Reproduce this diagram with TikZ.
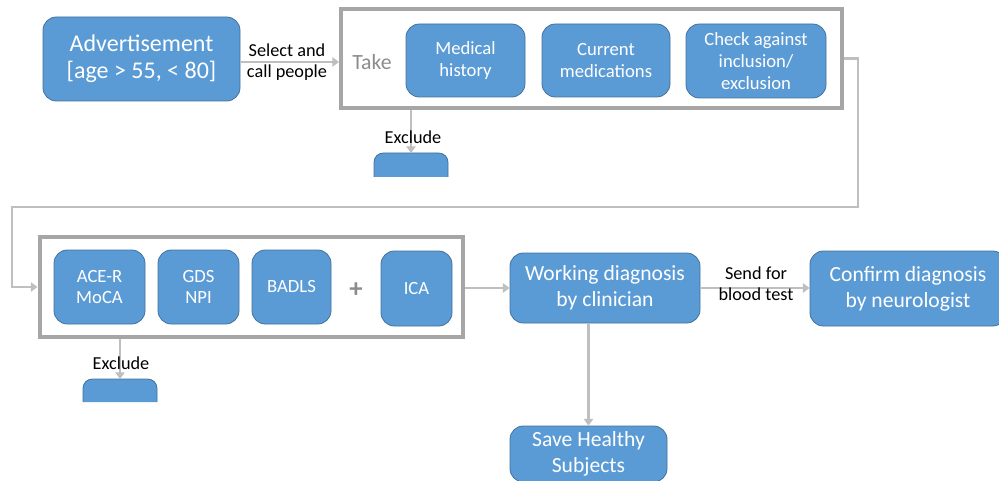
\documentclass[tikz,border=0pt]{standalone}
\usepackage{fontspec}
\setmainfont{Carlito}
\usetikzlibrary{arrows.meta}
\definecolor{boxblue}{HTML}{5B9BD5}
\definecolor{boxedge}{HTML}{41719C}
\definecolor{framegray}{HTML}{A6A6A6}
\definecolor{conn}{HTML}{BFBFBF}
\definecolor{taketext}{HTML}{8C8C8C}
\begin{document}
\begin{tikzpicture}[x=0.75pt,y=-0.75pt,
  sz/.style 2 args={minimum width=#1*0.75pt, minimum height=#2*0.75pt},
  bluebox/.style={draw=boxedge, line width=0.6pt, fill=boxblue, rounded corners=10pt,
     text=white, align=center, inner sep=0pt},
  advtxt/.style={font=\fontsize{18}{20.5}\selectfont},
  bigtxt/.style={font=\fontsize{16.2}{19.5}\selectfont},
  midtxt/.style={font=\fontsize{14}{16.2}\selectfont},
  frame/.style={draw=framegray, line width=3pt, inner sep=0pt},
  arr/.style={draw=conn, line width=2pt, -{Triangle[width=7pt,length=5pt]}},
  lbl/.style={font=\fontsize{13.7}{16}\selectfont, align=center, text=black, inner sep=0pt}
]
\useasboundingbox (0,0) rectangle (999,481);

% top row
\node[bluebox, advtxt, sz={197}{84}] (adv) at (141.5,59) {Advertisement\\{[}age > 55, < 80{]}};
\node[frame, sz={501}{98.5}] (top) at (591.5,58.75) {};
\node[text=taketext, font=\fontsize{16.3}{18}\selectfont, inner sep=0pt] (take) at (372,62) {Take};
\node[bluebox, midtxt, sz={119}{73}] (med) at (465.5,60.5) {Medical\\history};
\node[bluebox, midtxt, sz={128}{73}] (cur) at (606,60.5) {Current\\medications};
\node[bluebox, midtxt, sz={140}{74}] (chk) at (756,61) {Check against\\inclusion/\\exclusion};

% exclude 1
\path[fill=boxblue, draw=boxedge, line width=0.6pt] (374,177) {[rounded corners=7pt] -- (374,153) -- (448,153)} -- (448,177);
\coordinate (ex1) at (411,153);

% second row
\node[frame, sz={423}{100}] (bot) at (251,287) {};
\node[bluebox, midtxt, sz={91}{74}] (ace) at (99.5,287) {ACE-R\\MoCA};
\node[bluebox, midtxt, sz={81}{74}] (gds) at (198.5,287) {GDS\\NPI};
\node[bluebox, midtxt, sz={79}{74}] (badls) at (291.5,287) {BADLS};
\node[text=taketext, font=\fontsize{20}{20}\selectfont\bfseries, inner sep=0pt] (plus) at (356,290) {+};
\node[bluebox, midtxt, sz={71}{75}] (ica) at (416.5,288.5) {ICA};

% exclude 2
\path[fill=boxblue, draw=boxedge, line width=0.6pt] (83,402) {[rounded corners=7pt] -- (83,379) -- (157,379)} -- (157,402);
\coordinate (ex2) at (120,379);

\node[bluebox, bigtxt, sz={190}{70}] (wd) at (605,288) {Working diagnosis\\by clinician};
\node[bluebox, bigtxt, sz={196}{75}] (conf) at (908,288.5) {Confirm diagnosis\\by neurologist};
\node[bluebox, bigtxt, sz={157}{56}] (save) at (588.5,454) {Save Healthy\\Subjects};

% connectors
\draw[arr] (adv.east |- take) -- (top.west |- take);
\draw[arr] (top.south -| ex1) -- (ex1);
\coordinate (r1) at (858,207);
\coordinate (l1) at (12,207);
\draw[arr] (top.east) -| (r1) -- (l1) |- (bot.west);
\draw[arr] (bot.south -| ex2) -- (ex2);
\draw[arr] (bot.east |- wd) -- (wd.west);
\draw[arr] (wd.east) -- (conf.west |- wd);
\draw[arr] (wd.south -| save) -- (save.north);

% labels
\node[lbl] (sel) at (287,62) {Select and\\call people};
\node[lbl] (exl1) at (413,137) {Exclude};
\node[lbl] (exl2) at (121,363) {Exclude};
\node[lbl] (send) at (756,284) {Send for\\blood test};
\end{tikzpicture}
\end{document}
